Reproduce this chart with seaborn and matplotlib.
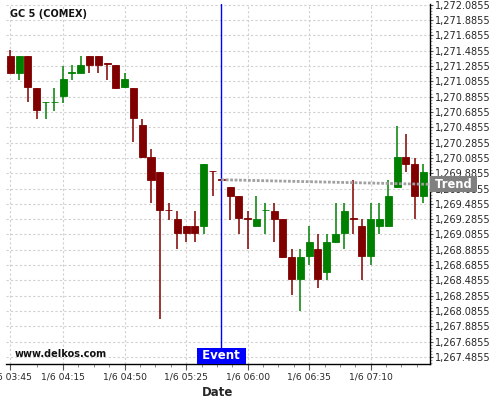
import numpy as np
import pandas as pd
import matplotlib
matplotlib.use("Agg")
import matplotlib.pyplot as plt
import matplotlib.transforms as mtransforms
from matplotlib.ticker import FixedLocator, FuncFormatter, MultipleLocator
import seaborn as sns

# 5-minute candles, GC 5 (COMEX), 1/6 03:45 .. 07:40
opens = [1271.41, 1271.20, 1271.41, 1271.00, 1270.81, 1270.81, 1270.90, 1271.20,
         1271.20, 1271.41, 1271.41, 1271.32, 1271.30, 1271.01, 1271.00, 1270.51,
         1270.10, 1269.90, 1269.41, 1269.29, 1269.19, 1269.19, 1269.20, 1269.92,
         1269.81, 1269.70, 1269.59, 1269.30, 1269.20, 1269.40, 1269.39, 1269.29,
         1268.79, 1268.50, 1268.80, 1268.90, 1268.60, 1268.99, 1269.10, 1269.30,
         1269.19, 1268.80, 1269.20, 1269.20, 1269.70, 1270.10, 1270.00, 1269.59]
highs = [1271.50, 1271.41, 1271.41, 1271.00, 1270.82, 1271.00, 1271.29, 1271.30,
         1271.41, 1271.41, 1271.41, 1271.32, 1271.30, 1271.19, 1271.00, 1270.59,
         1270.20, 1269.90, 1269.49, 1269.39, 1269.19, 1269.39, 1270.00, 1269.92,
         1269.81, 1269.70, 1269.59, 1269.39, 1269.59, 1269.50, 1269.50, 1269.29,
         1268.89, 1268.89, 1269.19, 1269.09, 1269.09, 1269.49, 1269.49, 1269.80,
         1269.29, 1269.49, 1269.49, 1269.80, 1270.50, 1270.40, 1270.09, 1270.00]
lows = [1271.20, 1271.10, 1270.81, 1270.59, 1270.59, 1270.70, 1270.80, 1271.10,
        1271.19, 1271.19, 1271.19, 1271.10, 1270.99, 1271.00, 1270.29, 1270.08,
        1269.49, 1267.98, 1269.28, 1268.89, 1268.99, 1268.99, 1269.09, 1269.59,
        1269.80, 1269.28, 1269.09, 1268.89, 1269.19, 1269.09, 1268.99, 1268.78,
        1268.29, 1268.09, 1268.69, 1268.39, 1268.49, 1268.98, 1268.89, 1269.09,
        1268.49, 1268.69, 1269.09, 1269.19, 1269.69, 1269.90, 1269.29, 1269.50]
closes = [1271.20, 1271.41, 1271.01, 1270.71, 1270.82, 1270.82, 1271.11, 1271.21,
          1271.30, 1271.30, 1271.30, 1271.31, 1271.00, 1271.11, 1270.61, 1270.10,
          1269.80, 1269.40, 1269.40, 1269.10, 1269.10, 1269.10, 1270.00, 1269.91,
          1269.80, 1269.59, 1269.30, 1269.29, 1269.29, 1269.41, 1269.29, 1268.79,
          1268.50, 1268.79, 1268.99, 1268.50, 1268.99, 1269.09, 1269.39, 1269.29,
          1268.80, 1269.29, 1269.29, 1269.59, 1270.10, 1270.00, 1269.59, 1269.90]

tick_labels = ["1/6 03:45", "1/6 04:15", "1/6 04:50", "1/6 05:25",
               "1/6 06:00", "1/6 06:35", "1/6 07:10"]
event_time = "1/6 05:45"
trend_values = [1269.80, 1269.74]

UP = "#008000"
DOWN = "#800000"

times = pd.date_range("2015-01-06 03:45", periods=len(opens), freq="5min")
df = pd.DataFrame({"time": times, "open": opens, "high": highs,
                   "low": lows, "close": closes})
df["pos"] = np.arange(len(df))
df["label"] = df["time"].dt.strftime("1/6 %H:%M")
df["color"] = np.where(df["close"] >= df["open"], UP, DOWN)

sns.set_style("white")
plt.rcParams["font.family"] = ["DejaVu Sans"]

fig = plt.figure(figsize=(5, 4), dpi=100)
ax = fig.add_axes([6 / 500, 36 / 400, 424 / 500, 360 / 400])

x_lo, x_hi = -0.5, len(df) - 0.25
ax.set_xlim(x_lo, x_hi)
ax.set_ylim(1267.394, 1272.095)

# grid
ax.set_axisbelow(True)
ax.grid(True, which="major", color="#d0d0d0", linestyle=(0, (2, 2)), linewidth=0.8)

# candles: wicks then bodies
ax.vlines(df["pos"], df["low"], df["high"], colors=df["color"], linewidth=1.1, zorder=2)
body_lo = df[["open", "close"]].min(axis=1)
body_h = (df["open"] - df["close"]).abs()
ax.bar(df["pos"], body_h, bottom=body_lo, width=0.8, color=df["color"],
       edgecolor=df["color"], linewidth=0.6, zorder=3)

# event marker
event_pos = df.loc[df["label"] == event_time, "pos"].iloc[0]
ax.axvline(event_pos, color="#0000ff", linewidth=1.0, zorder=4)

# trend line
trend = pd.DataFrame({"x": [event_pos, x_hi], "y": trend_values})
sns.lineplot(data=trend, x="x", y="y", ax=ax, color="#a0a0a0",
             linewidth=2.0, zorder=4)
ax.lines[-1].set_linestyle((0, (1, 0.6)))

# spines
for s in ["left", "top"]:
    ax.spines[s].set_visible(False)
for s in ["right", "bottom"]:
    ax.spines[s].set_color("black")
    ax.spines[s].set_linewidth(1.0)

# x ticks at the labelled candles
tick_pos = [df.loc[df["label"] == lbl, "pos"].iloc[0] for lbl in tick_labels]
ax.xaxis.set_major_locator(FixedLocator(tick_pos))
ax.set_xticklabels(tick_labels)
minor_x = [3] + list(np.arange(tick_pos[1], x_hi, 1.75))
ax.xaxis.set_minor_locator(FixedLocator(minor_x))
ax.tick_params(axis="x", which="major", direction="out", length=4, width=0.8,
               color="#555555", labelsize=6.6, pad=2, bottom=True)
ax.tick_params(axis="x", which="minor", direction="out", length=2.5, width=0.6,
               color="#777777", bottom=True)

# y ticks on the right
ax.yaxis.tick_right()
ax.yaxis.set_major_locator(MultipleLocator(0.2, offset=0.0855))
ax.yaxis.set_minor_locator(MultipleLocator(0.04, offset=0.0055))
ax.yaxis.set_major_formatter(FuncFormatter(lambda v, p: f"{v:,.4f}"))
ax.tick_params(axis="y", which="major", direction="out", length=2.5, width=0.8,
               color="#555555", labelsize=7, pad=1, right=True, left=False)
ax.tick_params(axis="y", which="minor", direction="out", length=1.5, width=0.5,
               color="#777777", right=True, left=False)

ax.set_xlabel("Date", fontsize=8.5, fontweight="bold", labelpad=3)
ax.set_ylabel("")

# captions
ax.text(0.01, 0.972, "GC 5 (COMEX)", transform=ax.transAxes, fontsize=7,
        fontweight="bold", ha="left", va="center", color="#111111")
ax.text(0.021, 0.028, "www.delkos.com", transform=ax.transAxes, fontsize=7,
        fontweight="bold", ha="left", va="center", color="#111111")

blend = mtransforms.blended_transform_factory(ax.transData, ax.transAxes)
ax.text(event_pos, 0.005, " Event ", transform=blend, fontsize=8.5,
        fontweight="bold", color="white", ha="center", va="bottom", zorder=6,
        bbox=dict(boxstyle="square,pad=0.12", facecolor="#0000ff", edgecolor="none"))

blend_y = mtransforms.blended_transform_factory(ax.transAxes, ax.transData)
ax.text(1.003, trend_values[-1], " Trend ", transform=blend_y, fontsize=8.3,
        fontweight="bold", color="white", ha="left", va="center", zorder=6,
        clip_on=False,
        bbox=dict(boxstyle="square,pad=0.12", facecolor="#808080", edgecolor="none"))

fig.savefig("out.png", dpi=100)
